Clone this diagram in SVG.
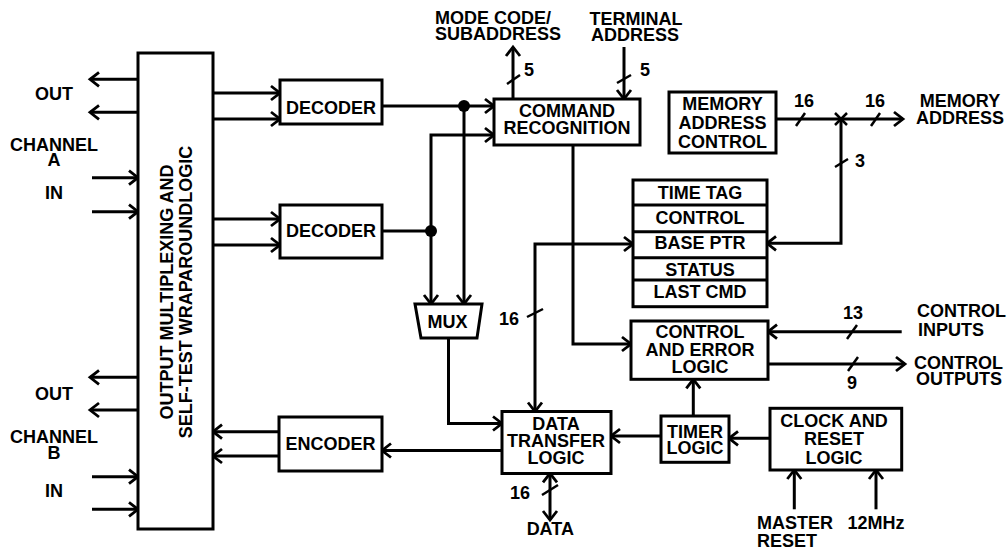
<svg xmlns="http://www.w3.org/2000/svg" width="1008" height="551" viewBox="0 0 1008 551">
<style>
text{font-family:"Liberation Sans",Arial,Helvetica,sans-serif;font-weight:bold;font-size:18px;fill:#000}
.c{text-anchor:middle}
.box{fill:#fff;stroke:#000;stroke-width:3}
.w{fill:none;stroke:#000;stroke-width:3}
.a{marker-end:url(#ah)}
.b{marker-start:url(#ah);marker-end:url(#ah)}
.s{stroke:#000;stroke-width:2.5;fill:none}
</style>
<defs>
<marker id="ah" viewBox="-13 -10 17 20" markerWidth="17" markerHeight="20" refX="0" refY="0" orient="auto-start-reverse" markerUnits="userSpaceOnUse">
<path d="M-9,-7 L0,0 L-9,7" fill="none" stroke="#000" stroke-width="2.8"/>
</marker>
</defs>
<rect width="1008" height="551" fill="#fff"/>

<g id="connectors">
<path class="w a" d="M138,79.3H90"/>
<path class="w a" d="M138,112.3H90"/>
<path class="w a" d="M92,177.7H138"/>
<path class="w a" d="M92,211.7H138"/>
<path class="w a" d="M138,377.3H90"/>
<path class="w a" d="M138,410H90"/>
<path class="w a" d="M92,476.7H138"/>
<path class="w a" d="M92,509.3H138"/>
<path class="w a" d="M213,93H280"/>
<path class="w a" d="M213,119H280"/>
<path class="w a" d="M213,219H280"/>
<path class="w a" d="M213,245H280"/>
<path class="w a" d="M279,431.7H213"/>
<path class="w a" d="M279,456H213"/>
<path class="w a" d="M382,106H494"/>
<path class="w a" d="M464,106V304"/>
<path class="w" d="M382,231H431"/>
<path class="w a" d="M431,231V304"/>
<path class="w a" d="M431,231V135H494"/>
<path class="w a" d="M513,99V47"/>
<path class="w a" d="M624,47V99"/>
<path class="w a" d="M573,145V344H631"/>
<path class="w a" d="M448.5,338V423.5H502"/>
<path class="w b" d="M535,411.5V244H633"/>
<path class="w a" d="M776,119H903"/>
<path class="w a" d="M841,119V243.3H767"/>
<path class="w a" d="M502,450.5H382"/>
<path class="w a" d="M661,436H611"/>
<path class="w a" d="M693.3,416V379.3"/>
<path class="w a" d="M770,438.3H729"/>
<path class="w a" d="M794.3,509.3V470"/>
<path class="w a" d="M876,509.3V470"/>
<path class="w b" d="M550,520V473.3"/>
<path class="w a" d="M901.7,331.7H768"/>
<path class="w a" d="M768,364H905"/>
<circle cx="464" cy="106" r="6" fill="#000"/>
<circle cx="431" cy="231" r="6" fill="#000"/>
<path class="s" d="M835,113L847,125M835,125L847,113"/>
<path class="s" d="M507,84L520,75"/>
<path class="s" d="M617,83L631,75"/>
<path class="s" d="M796,126L805,113"/>
<path class="s" d="M871,126L880,113"/>
<path class="s" d="M835,167L848,159"/>
<path class="s" d="M527,317L543,309"/>
<path class="s" d="M542,495L558,485"/>
<path class="s" d="M847,339L857,325"/>
<path class="s" d="M848,371L858,357"/>
<text x="529" y="76" class="c">5</text>
<text x="645" y="76" class="c">5</text>
<text x="804" y="106.7" class="c">16</text>
<text x="875" y="106.7" class="c">16</text>
<text x="855" y="167.3">3</text>
<text x="509" y="325" class="c">16</text>
<text x="520" y="499.3" class="c">16</text>
<text x="853" y="319.3" class="c">13</text>
<text x="852" y="389" class="c">9</text>
</g>

<g id="io-block">
<rect class="box" x="138" y="53" width="75" height="476"/>
<text class="c" transform="translate(173,292) rotate(-90)">OUTPUT MULTIPLEXING AND</text>
<text class="c" transform="translate(192,292) rotate(-90)">SELF-TEST WRAPAROUNDLOGIC</text>
</g>

<g id="channel-a">
<text x="54" y="100" class="c">OUT</text>
<text x="54" y="151" class="c">CHANNEL</text>
<text x="54" y="166" class="c">A</text>
<text x="54" y="199.3" class="c">IN</text>
</g>
<g id="channel-b">
<text x="54" y="400" class="c">OUT</text>
<text x="54" y="443.3" class="c">CHANNEL</text>
<text x="54" y="459.3" class="c">B</text>
<text x="54" y="496.7" class="c">IN</text>
</g>

<g id="decoder-a">
<rect class="box" x="280" y="80" width="102" height="44"/>
<text x="331" y="114.3" class="c">DECODER</text>
</g>
<g id="decoder-b">
<rect class="box" x="280" y="205" width="102" height="53"/>
<text x="331" y="236.7" class="c">DECODER</text>
</g>
<g id="encoder">
<rect class="box" x="279" y="417" width="103" height="54"/>
<text x="330.5" y="450" class="c">ENCODER</text>
</g>

<g id="command-recognition">
<rect class="box" x="494" y="99" width="146" height="46"/>
<text x="567" y="117" class="c">COMMAND</text>
<text x="567" y="134" class="c">RECOGNITION</text>
</g>

<g id="mode-code">
<text x="435" y="24">MODE CODE/</text>
<text x="435" y="39.5">SUBADDRESS</text>
</g>
<g id="terminal-address">
<text x="636" y="25" class="c">TERMINAL</text>
<text x="635" y="40.7" class="c">ADDRESS</text>
</g>

<g id="mux">
<polygon class="box" points="415,304 482,304 477,338 421,338"/>
<text x="447.5" y="327.7" class="c">MUX</text>
</g>

<g id="registers">
<rect class="box" x="633" y="180" width="134" height="126.7"/>
<path class="w" d="M633,205H767M633,231.7H767M633,257.7H767M633,280H767"/>
<text x="700" y="199" class="c">TIME TAG</text>
<text x="700" y="224" class="c">CONTROL</text>
<text x="700" y="249.3" class="c">BASE PTR</text>
<text x="700" y="275.7" class="c">STATUS</text>
<text x="700" y="298.3" class="c">LAST CMD</text>
</g>

<g id="memory-address-control">
<rect class="box" x="669" y="92" width="107" height="61"/>
<text x="722.5" y="110" class="c">MEMORY</text>
<text x="722.5" y="129.3" class="c">ADDRESS</text>
<text x="722.5" y="148" class="c">CONTROL</text>
</g>
<g id="memory-address">
<text x="960" y="106.7" class="c">MEMORY</text>
<text x="960" y="124" class="c">ADDRESS</text>
</g>

<g id="control-error-logic">
<rect class="box" x="631" y="321" width="137" height="58.3"/>
<text x="700" y="338.3" class="c">CONTROL</text>
<text x="700" y="356" class="c">AND ERROR</text>
<text x="700" y="373.3" class="c">LOGIC</text>
</g>
<g id="control-inputs">
<text x="917" y="317.3">CONTROL</text>
<text x="918" y="336">INPUTS</text>
</g>
<g id="control-outputs">
<text x="914" y="369">CONTROL</text>
<text x="916" y="385">OUTPUTS</text>
</g>

<g id="data-transfer-logic">
<rect class="box" x="502" y="411.5" width="109" height="62"/>
<text x="556" y="430" class="c">DATA</text>
<text x="556" y="446.7" class="c">TRANSFER</text>
<text x="556" y="464" class="c">LOGIC</text>
</g>
<g id="data">
<text x="550.3" y="535" class="c">DATA</text>
</g>

<g id="timer-logic">
<rect class="box" x="661" y="416" width="68" height="46.3"/>
<text x="695" y="438.3" class="c">TIMER</text>
<text x="695" y="454" class="c">LOGIC</text>
</g>

<g id="clock-reset-logic">
<rect class="box" x="770" y="408.3" width="131.7" height="61.7"/>
<text x="834" y="427.3" class="c">CLOCK AND</text>
<text x="834" y="445" class="c">RESET</text>
<text x="834" y="464" class="c">LOGIC</text>
</g>
<g id="master-reset">
<text x="757" y="529.3">MASTER</text>
<text x="757" y="546.7">RESET</text>
</g>
<g id="clock-12mhz">
<text x="876" y="529.3" class="c">12MHz</text>
</g>
</svg>
